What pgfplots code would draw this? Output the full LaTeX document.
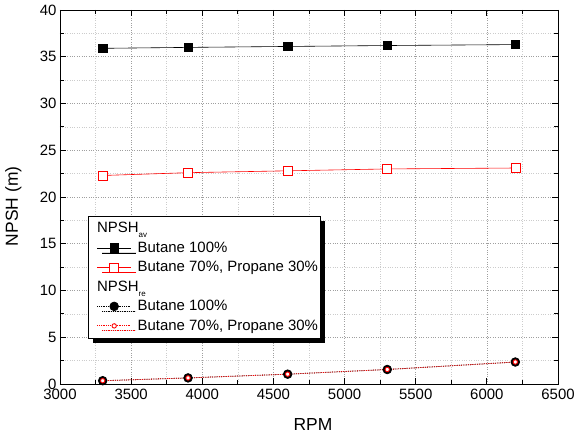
\documentclass[border=0pt]{standalone}
\usepackage{fontspec}
\setmainfont{Liberation Sans}
\usepackage{pgfplots}
\pgfplotsset{compat=1.18}
\usetikzlibrary{calc,shadows}

\begin{document}
\begin{tikzpicture}
\begin{axis}[
  name=ax,
  scale only axis, width=498bp, height=374bp,
  xmin=3000, xmax=6500, ymin=0, ymax=40,
  xtick={3000,3500,...,6500}, ytick={0,5,...,40},
  minor x tick num=1, minor y tick num=1,
  tick align=inside, major tick length=6bp, minor tick length=4bp,
  tick style={black, line width=0.8pt},
  axis line style={line width=0.9pt},
  grid=both,
  major grid style={dotted, gray!75, line width=0.7pt},
  minor grid style={dotted, gray!40, line width=0.6pt},
  /pgf/number format/assume math mode=true,
  /pgf/number format/1000 sep={},
  ticklabel style={font=\fontsize{15}{17}\selectfont},
  xticklabel style={yshift=-2bp},
  xlabel={RPM}, ylabel={NPSH (m)},
  label style={font=\fontsize{17.5}{20}\selectfont},
  xlabel style={at={($(rel axis cs:0.5,0)+(4bp,-47bp)$)}, anchor=base},
  ylabel style={at={($(rel axis cs:0,0.475)+(-42bp,0)$)}, anchor=base},
  legend style={at={(0.056,0.449)}, anchor=north west,
    font=\fontsize{15}{17}\selectfont, draw=black, line width=0.6pt,
    drop shadow={shadow xshift=5bp, shadow yshift=-5bp, fill=black, opacity=1},
    fill=white, row sep=3.6bp, column sep=4.5bp, inner xsep=0.5bp, inner ysep=4bp},
  legend cell align={left},
  legend image code/.code={
    \pgfpathrectangle{\pgfpoint{-8.5bp}{-5.4bp}}{\pgfpoint{42.5bp}{10.8bp}}
    \pgfusepath{use as bounding box}
    \draw[mark repeat=2, mark phase=2, #1] plot coordinates {(0bp,0bp)(17bp,0bp)(34bp,0bp)};
  },
]
\addlegendimage{empty legend}
\addlegendentry{\hspace*{-40.5bp}NPSH\raisebox{-5bp}{\fontsize{8}{9}\selectfont av}}
\addplot[black, line width=0.6pt, mark=square*, mark size=4.2bp,
  mark options={fill=black}] coordinates
  {(3300,35.9)(3900,36.0)(4600,36.1)(5300,36.2)(6200,36.3)};
\addlegendentry{Butane 100\%}
\addplot[red, line width=0.6pt, mark=square*, mark size=4.5bp,
  mark options={fill=white, draw=red}] coordinates
  {(3300,22.3)(3900,22.6)(4600,22.8)(5300,23.0)(6200,23.1)};
\addlegendentry{Butane 70\%, Propane 30\%}
\addlegendimage{empty legend}
\addlegendentry{\hspace*{-40.5bp}NPSH\raisebox{-5bp}{\fontsize{8}{9}\selectfont re}}
\addplot[black, densely dotted, line width=0.8pt, mark=*, mark size=4.3bp,
  mark options={solid, fill=black}] coordinates
  {(3300,0.35)(3900,0.65)(4600,1.05)(5300,1.55)(6200,2.35)};
\addlegendentry{Butane 100\%}
\addplot[red, densely dotted, line width=0.8pt, mark=*, mark size=2.2bp,
  mark options={solid, fill=white, draw=red, line width=0.9pt}] coordinates
  {(3300,0.35)(3900,0.65)(4600,1.05)(5300,1.55)(6200,2.35)};
\addlegendentry{Butane 70\%, Propane 30\%}
\end{axis}
\pgfresetboundingbox
\path[use as bounding box] ($(ax.south west)+(-60bp,-54bp)$) rectangle ($(ax.north east)+(27bp,10bp)$);
\end{tikzpicture}
\end{document}
